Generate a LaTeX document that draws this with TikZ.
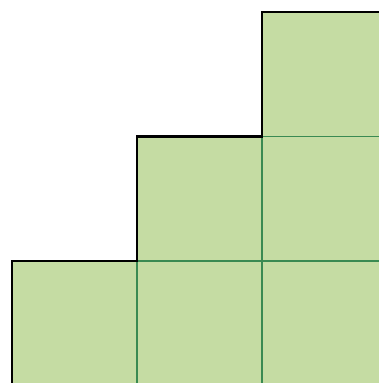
\documentclass[tikz,border=0pt]{standalone}
\definecolor{cellgreen}{RGB}{197,220,163}
\definecolor{gridgreen}{RGB}{58,138,82}
\begin{document}
\begin{tikzpicture}[
  x=1pt, y=-1pt,
  cell/.style={fill=cellgreen, draw=gridgreen, line width=1.1pt},
  rim/.style={draw=black, line width=2.4pt, line cap=round, line join=miter}
]
  \useasboundingbox (0,0) rectangle (379,383);
  \clip (0,0) rectangle (379,383);
  % staircase of cells: column c holds rows 2-c..2
  \foreach \c in {0,1,2} {
    \pgfmathtruncatemacro{\top}{2-\c}
    \foreach \r in {\top,...,2}
      \draw[cell] ({12+125*\c},{12+124.5*\r}) rectangle ++(125,124.5);
  }
  % outer step line
  \coordinate (s0) at (12,400);
  \coordinate (s1) at (12,261);
  \coordinate (s2) at (137,261);
  \coordinate (s3) at (137,136.5);
  \coordinate (s4) at (262,136.5);
  \coordinate (s5) at (262,12);
  \coordinate (s6) at (400,12);
  \draw[rim] (s0) -- (s1) -- (s2) -- (s3) -- (s4) -- (s5) -- (s6);
\end{tikzpicture}
\end{document}
